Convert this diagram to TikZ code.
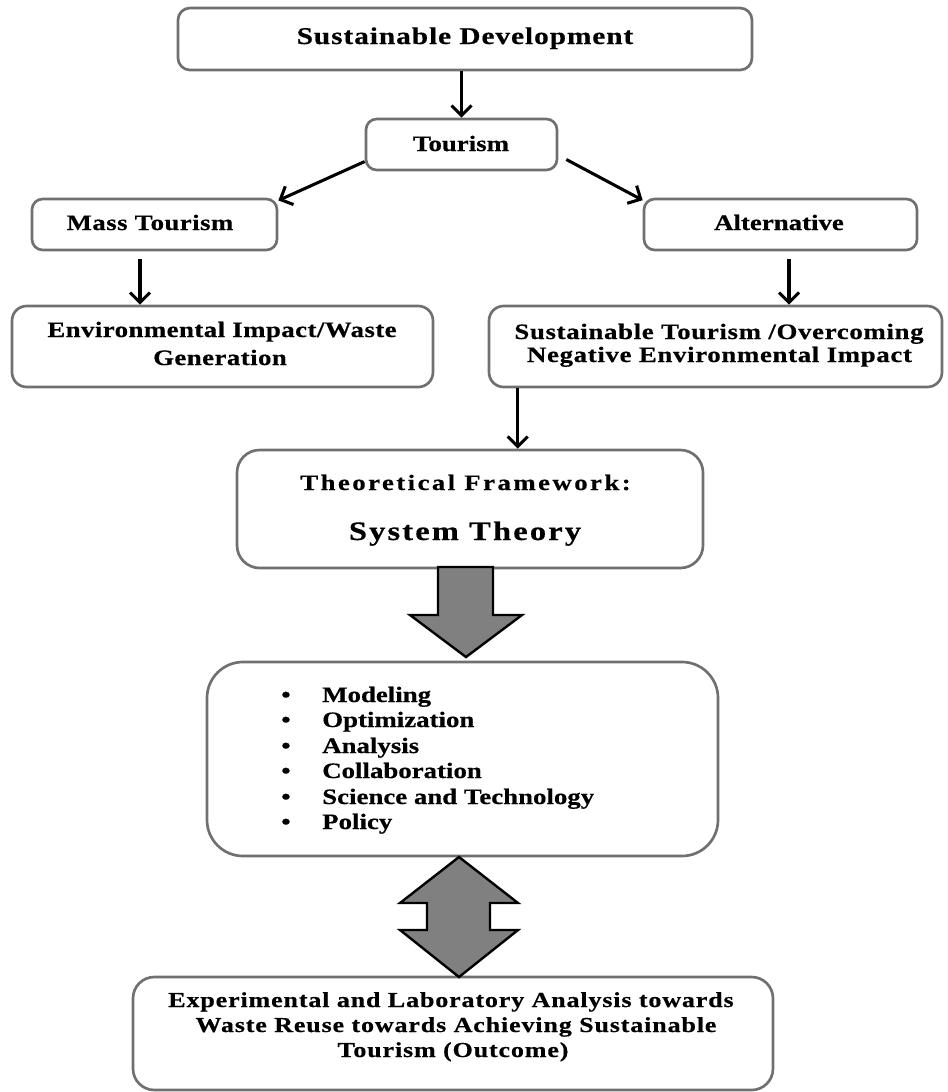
\documentclass[tikz,border=0pt]{standalone}
\usepackage{fontspec}
\setmainfont{Liberation Serif}[FakeStretch=1.22,BoldFeatures={FakeBold=0.5}]
\usetikzlibrary{arrows.meta,calc}
\definecolor{boxgray}{RGB}{112,112,112}
\definecolor{fillgray}{RGB}{128,128,128}
\newcommand\spaced[1]{\addfontfeatures{LetterSpace=#1}}
\newcommand\fsz[2]{\fontsize{#1}{#2}\selectfont}

\begin{document}
\begin{tikzpicture}[x=0.75pt,y=-0.75pt,
  box/.style={draw=boxgray,line width=2pt,fill=white,inner sep=0pt},
  lbl/.style={anchor=base,inner sep=0pt,font=\bfseries\fsz{16.5}{19}},
  item/.style={lbl,anchor=base west},
  conn/.style={line width=2.3pt,-{Straight Barb[length=7.5pt,width=15pt]}},
  blockarrow/.style={fill=fillgray,draw=black,line width=1.8pt,line join=miter}]

\useasboundingbox (0,0) rectangle (947,1092);

% ---- boxes ----
\node[box,rounded corners=9pt,minimum width=430.5pt,minimum height=46.5pt] (sd) at (465,39) {};
\node[box,rounded corners=8pt,minimum width=143.25pt,minimum height=38.25pt] (tour) at (461.5,144.5) {};
\node[box,rounded corners=8pt,minimum width=183.75pt,minimum height=38.25pt] (mass) at (154.5,224.5) {};
\node[box,rounded corners=8pt,minimum width=204.75pt,minimum height=38.25pt] (alt) at (780.5,224.5) {};
\node[box,rounded corners=11pt,minimum width=315.75pt,minimum height=60.75pt] (env) at (222.5,346.5) {};
\node[box,rounded corners=11pt,minimum width=339.75pt,minimum height=60.75pt] (sust) at (715.5,346.5) {};
\node[box,rounded corners=17pt,minimum width=349.5pt,minimum height=88.5pt] (theo) at (470,509) {};
\node[box,rounded corners=27pt,minimum width=383.25pt,minimum height=145.5pt] (tools) at (462.5,759) {};
\node[box,rounded corners=16pt,minimum width=480pt,minimum height=84.75pt] (outc) at (453,1033.5) {};

% ---- labels ----
\node[lbl,font=\bfseries\fsz{18}{21}] (sdA) at (465,44) {\spaced{4}Sustainable Development};
\node[lbl] (tourA) at (461,151) {Tourism};
\node[lbl] (massA) at (150,230) {\spaced{2}Mass Tourism};
\node[lbl] (altA) at (779,230) {Alternative};
\node[lbl] (envA) at (222,337) {\spaced{2}Environmental Impact/Waste};
\node[lbl] (envB) at (220,365) {\spaced{2}Generation};
\node[lbl] (sustA) at (719,339) {\spaced{3}Sustainable Tourism /Overcoming};
\node[lbl] (sustB) at (719.5,362) {\spaced{3}Negative Environmental Impact};
\node[lbl] (theoA) at (465.5,490) {\spaced{11}Theoretical Framework:};
\node[lbl,font=\bfseries\fsz{20}{24}] (theoB) at (465,540) {\spaced{8}System Theory};

\node[item] (t1) at (281,702) {\makebox[30.75pt][l]{\textbullet}Modeling};
\node[item] (t2) at (281,727) {\makebox[30.75pt][l]{\textbullet}Optimization};
\node[item] (t3) at (281,753) {\makebox[30.75pt][l]{\textbullet}Analysis};
\node[item] (t4) at (281,778) {\makebox[30.75pt][l]{\textbullet}Collaboration};
\node[item] (t5) at (281,804) {\makebox[30.75pt][l]{\textbullet}Science and Technology};
\node[item] (t6) at (281,829) {\makebox[30.75pt][l]{\textbullet}Policy};

\node[lbl,font=\bfseries\fsz{16}{19}] (outA) at (451,1007) {\spaced{4}Experimental and Laboratory Analysis towards};
\node[lbl,font=\bfseries\fsz{16}{19}] (outB) at (456,1032) {\spaced{4}Waste Reuse towards Achieving Sustainable};
\node[lbl,font=\bfseries\fsz{16}{19}] (outC) at (453,1057) {\spaced{4}Tourism (Outcome)};

% ---- thin connectors ----
\draw[conn] (tour.north |- sd.south) -- (tour.north);
\draw[conn] (tour.190) -- (mass.11);
\coordinate (tr) at ($(tour.east)+(8,15)$);
\draw[conn] (tr) -- (alt.170);
\coordinate (m1) at ($(mass.south)+(-14.5,8)$);
\draw[conn] (m1) -- (m1 |- env.north);
\coordinate (a1) at ($(alt.south)+(8.5,8)$);
\draw[conn] (a1) -- (a1 |- sust.north);
\coordinate (s1) at ($(sust.south west)+(30,0)$);
\draw[conn] (s1) -- (s1 |- theo.north);

% ---- block arrows ----
\draw[blockarrow] (438,567) -- (493,567) -- (493,615) -- (522,615) -- (466,657)
  -- (410,615) -- (438,615) -- cycle;
\draw[blockarrow] (459,857) -- (518,903) -- (490,903) -- (490,930) -- (518,930)
  -- (459,977) -- (400,930) -- (427,930) -- (427,903) -- (400,903) -- cycle;

\end{tikzpicture}
\end{document}
